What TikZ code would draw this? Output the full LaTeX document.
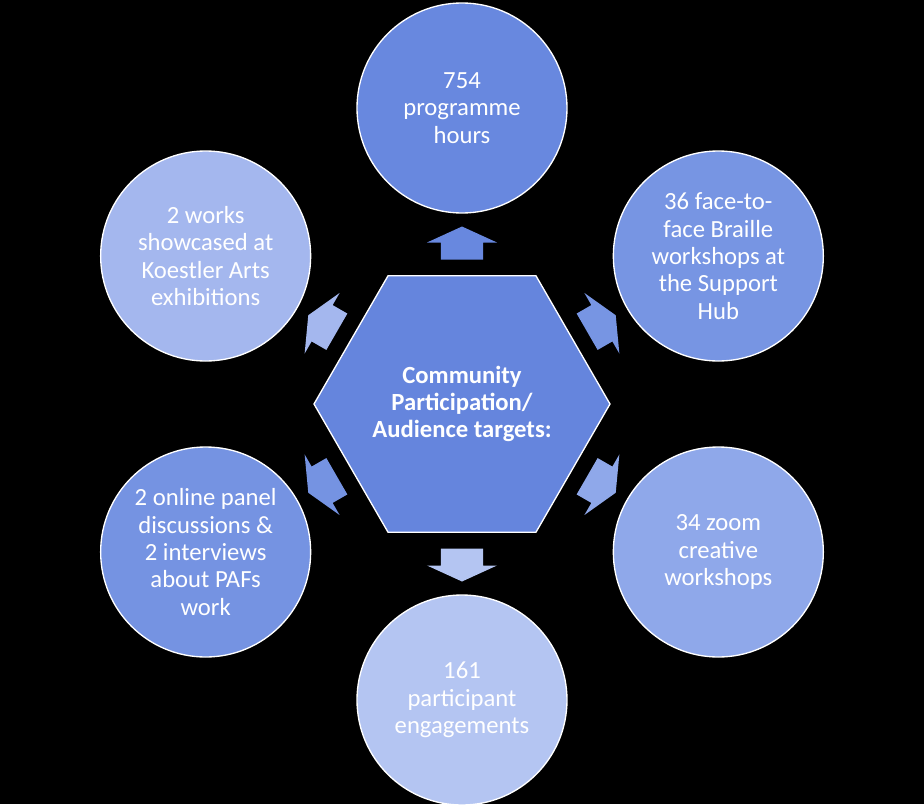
\documentclass[tikz,border=0pt]{standalone}
\usepackage{fontspec}
\setmainfont{Carlito}
\usetikzlibrary{shapes.geometric}
\definecolor{hubblue}{HTML}{6585DD}
\definecolor{tintA}{HTML}{6888DF}
\definecolor{tintB}{HTML}{7795E3}
\definecolor{tintC}{HTML}{8FA8EA}
\definecolor{tintD}{HTML}{B4C5F2}
\definecolor{tintE}{HTML}{7593E2}
\definecolor{tintF}{HTML}{A4B7EE}
\tikzset
{
  hub/.style  = {regular polygon, regular polygon sides=6, draw=white, line width=1pt, fill=hubblue, text=white, align=center, minimum size=222pt, inner sep=0pt, font=\fontsize{18.5}{20.5}\selectfont\bfseries},
  goal/.style = {circle, draw=white, line width=1pt, text=white, align=center, minimum size=157.5pt, inner sep=0pt, font=\fontsize{18.5}{20.5}\selectfont},
  spoke/.pic  = {\fill (-21,-16.5) -- (21,-16.5) -- (21,0.5) -- (35,0.5) -- (0,16.5) -- (-35,0.5) -- (-21,0.5) -- cycle;}
}

\begin{document}
\begin{tikzpicture}[x=0.75pt, y=0.75pt]
  \useasboundingbox[fill=black] (-462,-400) rectangle (462,404);
  \node [hub] (hub) at (0,0) {Community\\Participation/\\Audience targets:};
  \node [goal, fill=tintA] (hours) at (90:296) {754\\programme\\hours};
  \node [goal, fill=tintB] (braille) at (30:296) {36 face-to-\\face Braille\\workshops at\\the Support\\Hub};
  \node [goal, fill=tintC] (zoom) at (-30:296) {34 zoom\\creative\\workshops};
  \node [goal, fill=tintD] (engage) at (-90:296) {161\\participant\\engagements};
  \node [goal, fill=tintE] (panel) at (-150:296) {2 online panel\\discussions \&\\2 interviews\\about PAFs\\work};
  \node [goal, fill=tintF] (koestler) at (150:296) {2 works\\showcased at\\Koestler Arts\\exhibitions};
  % arrows from the hub out to each circle
  \foreach \ang/\col in {90/tintA, 30/tintB, -30/tintC, -90/tintD, -150/tintE, 150/tintF}
    \pic [fill=\col, rotate=\ang-90] at (\ang:161) {spoke};
\end{tikzpicture}
\end{document}
